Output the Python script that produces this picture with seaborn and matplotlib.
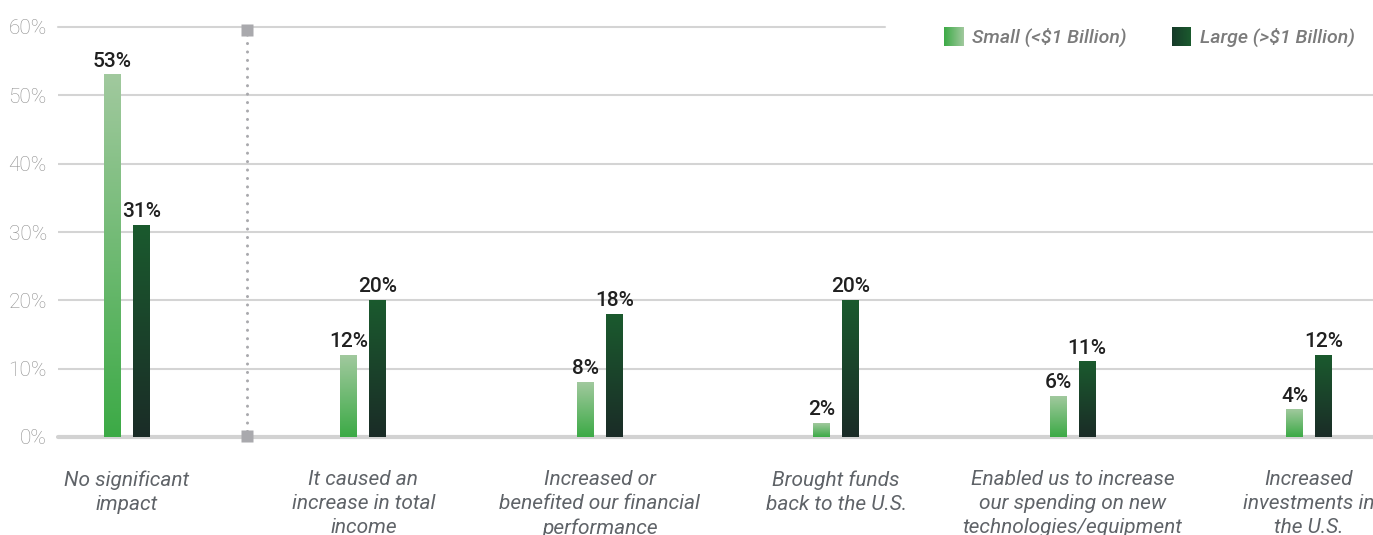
import numpy as np
import pandas as pd
import matplotlib
matplotlib.use("Agg")
import matplotlib.pyplot as plt
import seaborn as sns
from matplotlib.colors import to_rgb

# --- data -------------------------------------------------------------
impacts = [
    "No significant\nimpact",
    "It caused an\nincrease in total\nincome",
    "Increased or\nbenefited our financial\nperformance",
    "Brought funds\nback to the U.S.",
    "Enabled us to increase\nour spending on new\ntechnologies/equipment",
    "Increased\ninvestments in\nthe U.S.",
]
small_pct = [53, 12, 8, 2, 6, 4]
large_pct = [31, 20, 18, 20, 11, 12]
sizes = ["Small (<$1 Billion)", "Large (>$1 Billion)"]
y_ticks = [0, 10, 20, 30, 40, 50, 60]

df = pd.DataFrame({
    "impact": impacts * 2,
    "pct": small_pct + large_pct,
    "size": [sizes[0]] * len(impacts) + [sizes[1]] * len(impacts),
})

# gradient end colours (top, bottom) for each company size
grad = {
    sizes[0]: ("#a1c99e", "#3caa46"),
    sizes[1]: ("#1b5a2e", "#1a2c27"),
}

sns.set_theme(style="white")
plt.rcParams["font.family"] = ["Roboto", "DejaVu Sans"]

W, H = 1373, 535
fig = plt.figure(figsize=(W / 100, H / 100), dpi=100)
ax = fig.add_axes([58 / W, (H - 437) / H, 1315 / W, 410 / H])

sns.barplot(
    data=df, x="impact", y="pct", hue="size", order=impacts,
    hue_order=sizes, width=0.245, gap=0.414, legend=False,
    palette=["#3caa46", "#1a2c27"], ax=ax, zorder=3,
)

# replace flat fills with vertical gradients
for cont, size, vals in zip(ax.containers, sizes, [small_pct, large_pct]):
    top, bot = (np.array(to_rgb(c)) for c in grad[size])
    t = np.linspace(0, 1, 256)[:, None, None]
    img = bot * (1 - t) + top * t
    for bar in cont:
        x0, w, h = bar.get_x(), bar.get_width(), bar.get_height()
        bar.set_facecolor("none")
        bar.set_edgecolor("none")
        ax.imshow(img, extent=[x0, x0 + w, 0, h], origin="lower",
                  aspect="auto", interpolation="bilinear", zorder=3)
    ax.bar_label(cont, labels=[f"{v}%" for v in vals], padding=3,
                 fontsize=15, fontweight="medium", color="#202020")

ax.set_xlim(-0.292, 5.271)
ax.set_ylim(0, 60)

# grid lines
grid_col = "#d4d4d4"
for yv in y_ticks[1:-1]:
    ax.axhline(yv, color=grid_col, lw=1.5, zorder=1)
ax.axhline(60, xmax=(885 - 58) / 1315, color=grid_col, lw=1.5,
           zorder=1, clip_on=False)
ax.axhline(0, color="#d2d2d2", lw=3, zorder=2, clip_on=False,
           solid_capstyle="round")

# dotted separator after the first group
sep_x = 0.508
ax.plot([sep_x, sep_x], [0.9, 59.2], color="#a9a9ad", lw=2.2,
        linestyle=(0, (0.01, 2.75)), dash_capstyle="round",
        zorder=2, clip_on=False)
ax.plot([sep_x], [59.55], marker="s", ms=8, color="#a9a9ad",
        mec="none", zorder=4, clip_on=False)
ax.plot([sep_x], [0.1], marker="s", ms=8, color="#a9a9ad",
        mec="none", zorder=4, clip_on=False)

# axes styling
for s in ax.spines.values():
    s.set_visible(False)
ax.set_xlabel("")
ax.set_ylabel("")
ax.set_yticks(y_ticks)
ax.set_yticklabels([f"{v}%" for v in y_ticks], fontsize=15,
                   fontweight="light", color="#8e8e8e")
ax.set_xticks(range(len(impacts)))
ax.set_xticklabels(impacts, fontsize=15, style="italic",
                   color="#5f6368", linespacing=1.33)
ax.tick_params(axis="y", length=0, pad=8)
ax.tick_params(axis="x", length=0, pad=24)

# legend with gradient swatches
def swatch(x_px, left, right, label):
    sax = fig.add_axes([x_px / W, (H - 46) / H, 19 / W, 19 / H])
    l, r = np.array(to_rgb(left)), np.array(to_rgb(right))
    t = np.linspace(0, 1, 64)[None, :, None]
    sax.imshow(l * (1 - t) + r * t, aspect="auto",
               interpolation="bilinear")
    sax.set_axis_off()
    fig.text((x_px + 28) / W, (H - 37) / H, label.replace("$", r"\$"),
             fontsize=14, style="italic", fontweight="medium",
             color="#7b7b7b", va="center", ha="left")

swatch(944, "#3caa46", "#a1c99e", sizes[0])
swatch(1172, "#163a29", "#1b5a2e", sizes[1])

fig.savefig("out.png", dpi=100)
